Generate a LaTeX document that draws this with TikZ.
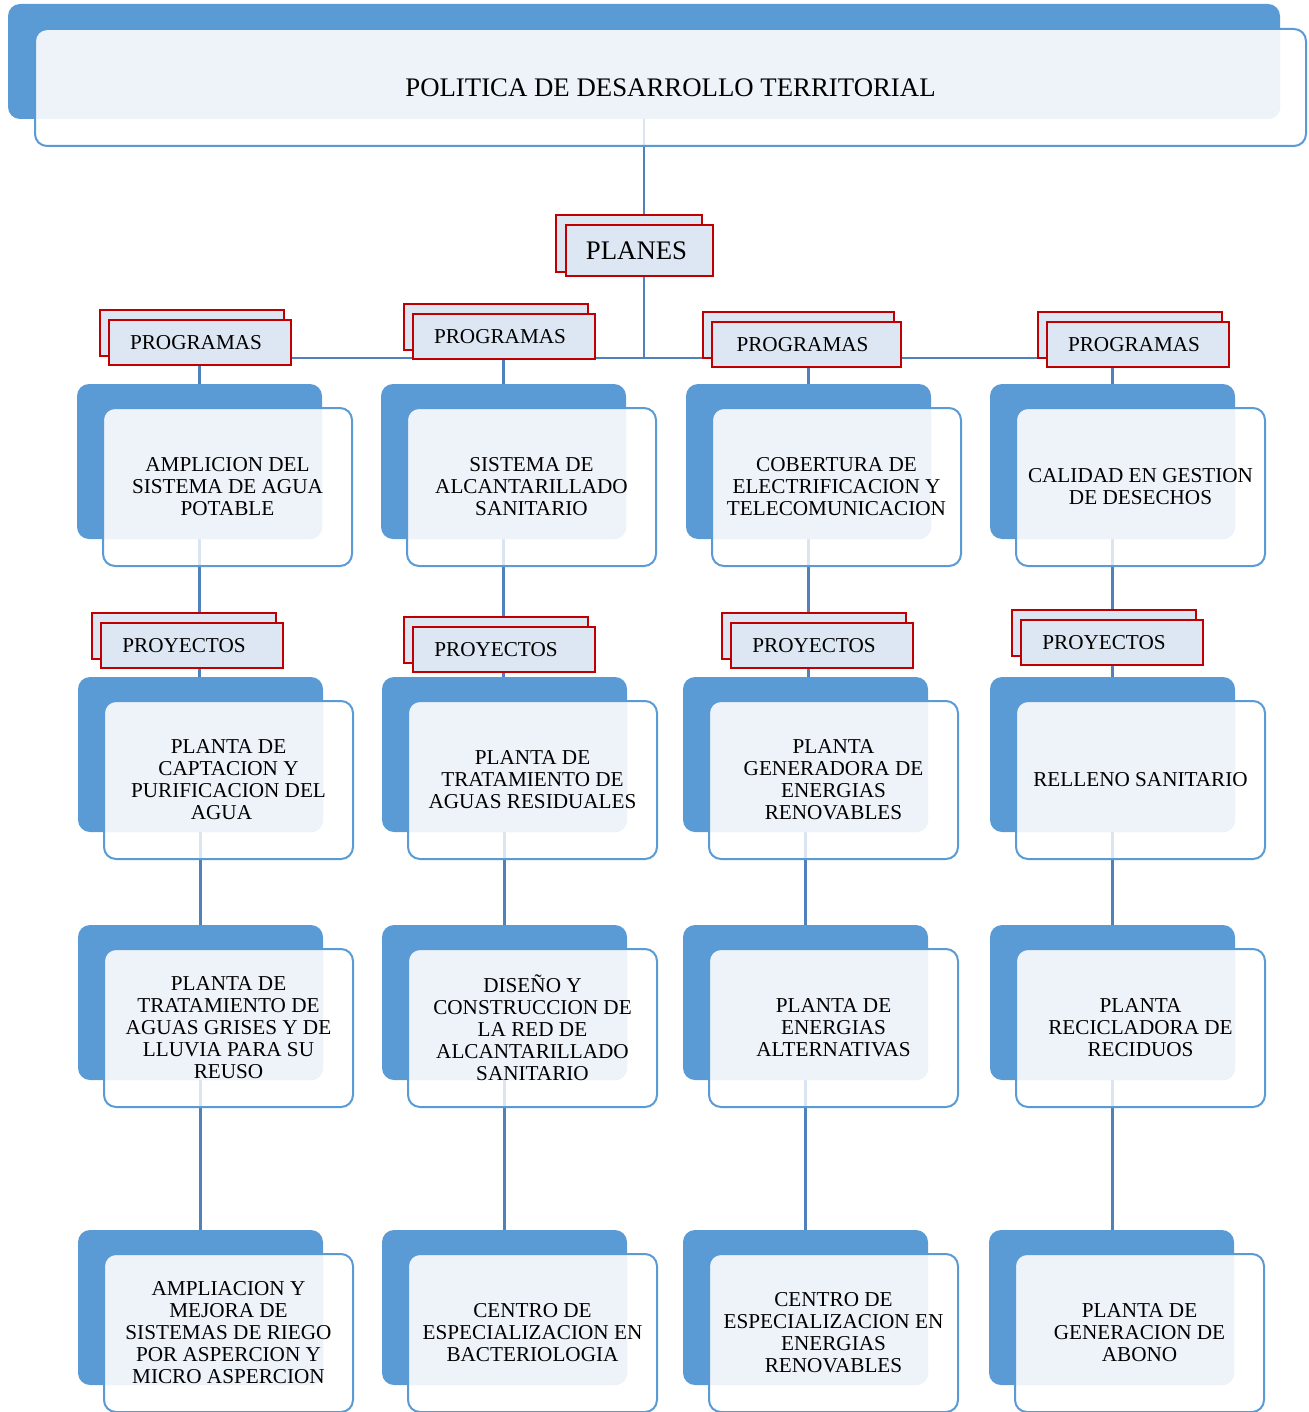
\documentclass[tikz,border=0pt]{standalone}
\usepackage{fontspec}
\setmainfont{Liberation Serif}
\usetikzlibrary{backgrounds}

\definecolor{cardblue}{HTML}{5B9BD5}
\definecolor{cardlight}{HTML}{EEF3FA}
\definecolor{linkblue}{HTML}{4F81BD}
\definecolor{tagred}{HTML}{C00000}
\definecolor{tagfill}{HTML}{DDE7F3}

\newcommand\cardfont{\fontsize{10.6}{11}\selectfont}
\newcommand\headfont{\fontsize{13.4}{15}\selectfont}

\tikzset{
  cardback/.style={fill=cardblue, rounded corners=6pt, minimum width=122.5pt,
    minimum height=77.5pt, inner sep=0pt, outer sep=0pt},
  cardfront/.style={draw=cardblue, line width=1pt, rounded corners=6pt,
    minimum width=124.5pt, minimum height=79pt, inner sep=0pt, outer sep=0pt,
    align=center, font=\cardfont},
  tagshape/.style={draw=tagred, fill=tagfill, line width=1.3pt, inner sep=0pt,
    font=\cardfont},
  link/.style={draw=linkblue, line width=1.4pt},
}

% card: name, left x and top y of the blue back panel, text
\newcommand\card[4]{%
  \node[cardback] (b#1) at ({#2+122.5},{#3+77.5}) {};
  \fill[white, opacity=0.8, rounded corners=6pt] ({#2+26},{#3+24}) rectangle ++(249,158);
  \begin{scope}
    \clip[rounded corners=6pt] ({#2+26},{#3+24}) rectangle ++(249,158);
    \fill[cardlight, rounded corners=6pt] (#2,#3) rectangle ++(245,155);
  \end{scope}
  \node[cardfront] (f#1) at ({#2+150.5},{#3+103}) {#4};
}

% stacked label: name, left x and top y of the rear sheet, width, text
\newcommand\tagbox[5]{%
  \path[tagshape] (#2,#3) rectangle ++(#4,46);
  \node[tagshape, minimum width={0.5pt*#4-1pt}, minimum height=22.5pt]
    (#1) at ({#2+9+(#4-2)/2},{#3+32.5}) {#5};
}
\newcommand\progtext{PROGRAMAS\hspace*{4pt}}
\newcommand\projtext{PROYECTOS\hspace*{8pt}}

\begin{document}
\begin{tikzpicture}[x=0.5pt, y=-0.5pt]
\useasboundingbox (0,0) rectangle (1308,1412);

% title panel
\node[cardback, minimum width=636pt, minimum height=57.5pt] (tb) at (644,61.5) {};
\fill[white, opacity=0.8, rounded corners=6pt] (35,30) rectangle (1306,147);
\begin{scope}
  \clip[rounded corners=6pt] (35,30) rectangle (1306,147);
  \fill[cardlight, rounded corners=6pt] (8,4) rectangle (1280,119);
\end{scope}
\node[cardfront, minimum width=635.5pt, minimum height=58.5pt, font=\headfont]
  (tf) at (670.5,87.5) {POLITICA DE DESARROLLO TERRITORIAL};

% plans label
\path[tagshape] (556,215) rectangle (702,272);
\node[tagshape, minimum width=73.5pt, minimum height=25.5pt, font=\headfont]
  (planes) at (639.5,250.5) {PLANES\hspace*{3pt}};

\coordinate (bus) at (644,358);

% programme labels
\tagbox{pg1}{100}{310}{184}{\progtext}
\tagbox{pg2}{404}{304}{184}{\progtext}
\tagbox{pg3}{703}{312}{191}{\progtext}
\tagbox{pg4}{1038}{312}{184}{\progtext}

% programmes
\card{11}{77}{384}{AMPLICION DEL\\SISTEMA DE AGUA\\POTABLE}
\card{12}{381}{384}{SISTEMA DE\\ALCANTARILLADO\\SANITARIO}
\card{13}{686}{384}{COBERTURA DE\\ELECTRIFICACION Y\\TELECOMUNICACION}
\card{14}{990}{384}{CALIDAD EN GESTION\\DE DESECHOS}

% project labels
\tagbox{py1}{92}{613}{184}{\projtext}
\tagbox{py2}{404}{617}{184}{\projtext}
\tagbox{py3}{722}{613}{184}{\projtext}
\tagbox{py4}{1012}{610}{184}{\projtext}

% projects
\card{21}{78}{677}{PLANTA DE\\CAPTACION Y\\PURIFICACION DEL\\AGUA\hspace*{7pt}}
\card{22}{382}{677}{PLANTA DE\\TRATAMIENTO DE\\AGUAS RESIDUALES}
\card{23}{683}{677}{PLANTA\\GENERADORA DE\\ENERGIAS\\RENOVABLES}
\card{24}{990}{677}{RELLENO SANITARIO}

\card{31}{78}{925}{PLANTA DE\\TRATAMIENTO DE\\AGUAS GRISES Y DE\\LLUVIA PARA SU\\REUSO}
\card{32}{382}{925}{DISEÑO Y\\CONSTRUCCION DE\\LA RED DE\\ALCANTARILLADO\\SANITARIO}
\card{33}{683}{925}{PLANTA DE\\ENERGIAS\\ALTERNATIVAS}
\card{34}{990}{925}{PLANTA\\RECICLADORA DE\\RECIDUOS}

\card{41}{78}{1230}{AMPLIACION Y\\MEJORA DE\\SISTEMAS DE RIEGO\\POR ASPERCION Y\\MICRO ASPERCION}
\card{42}{382}{1230}{CENTRO DE\\ESPECIALIZACION EN\\BACTERIOLOGIA}
\card{43}{683}{1230}{CENTRO DE\\ESPECIALIZACION EN\\ENERGIAS\\RENOVABLES}
\card{44}{989}{1230}{PLANTA DE\\GENERACION DE\\ABONO}

% connectors, behind everything
\begin{pgfonlayer}{background}
  \draw[link] (tb.south) -- (bus);
  \draw[link] (b11.north) -- (b11.north |- bus) -- (b14.north |- bus) -- (b14.north);
  \draw[link] (b12.north) -- (b12.north |- bus);
  \draw[link] (b13.north) -- (b13.north |- bus);
  \foreach \c in {1,...,4} {
    \draw[link] (b1\c.south) -- (b1\c.south |- b2\c.north);
    \draw[link] (b2\c.south) -- (b3\c.north);
    \draw[link] (b3\c.south) -- (b3\c.south |- b4\c.north);
  }
\end{pgfonlayer}
\end{tikzpicture}
\end{document}
